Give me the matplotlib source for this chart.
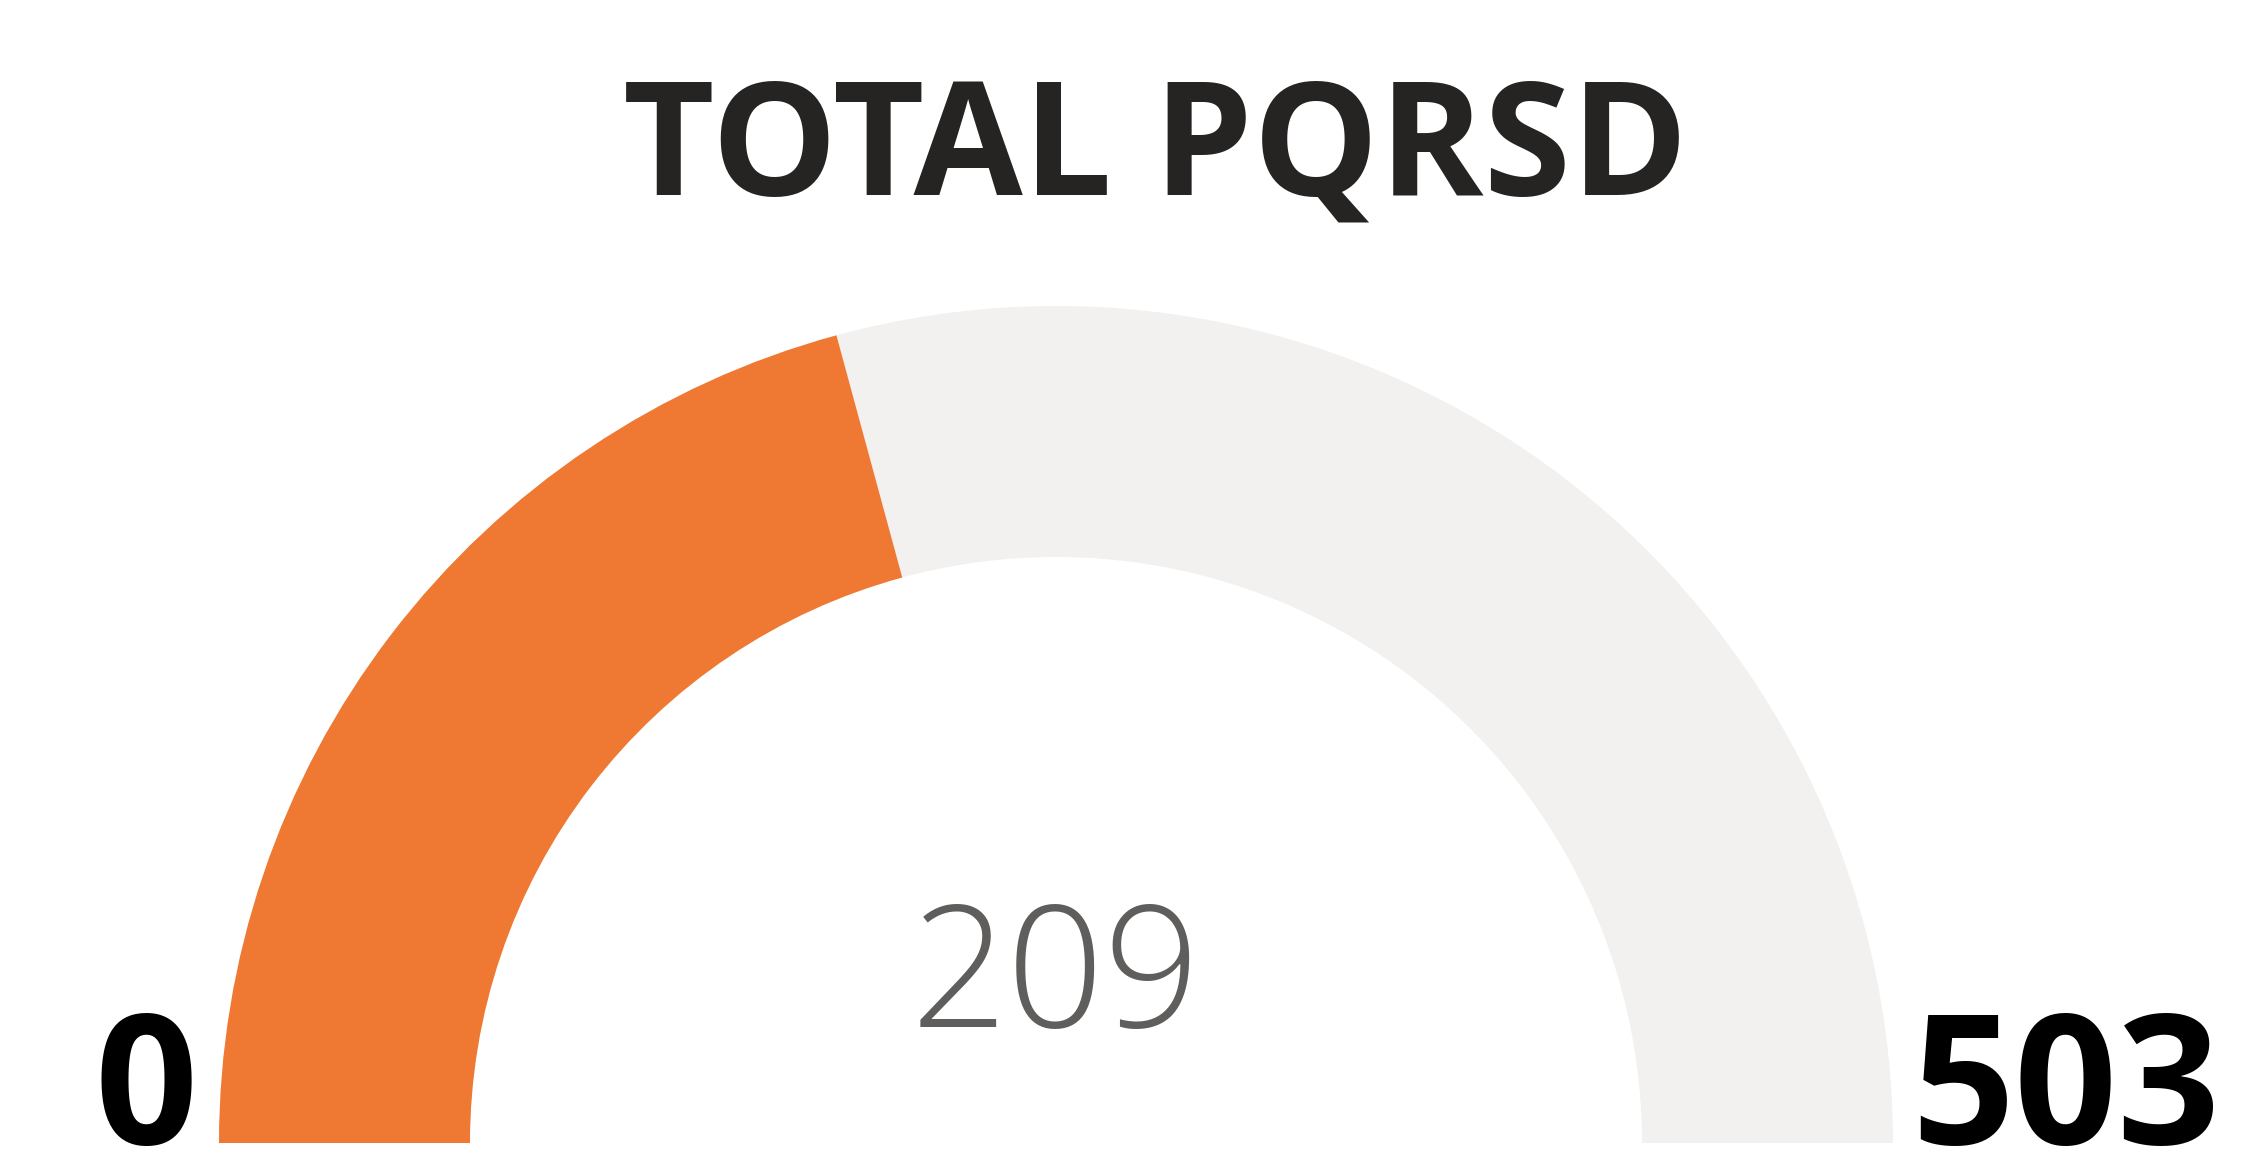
import matplotlib
matplotlib.use("Agg")
import matplotlib.pyplot as plt
from matplotlib.patches import Wedge

# data gauge
title = "TOTAL PQRSD"
min_val = 0
max_val = 503
value = 209

W, H = 2245, 1156
fig = plt.figure(figsize=(W / 100, H / 100), dpi=100)
ax = fig.add_axes([0, 0, 1, 1])
ax.set_xlim(0, W)
ax.set_ylim(0, H)
ax.axis("off")

# pusat dan jari-jari busur (piksel)
cx, cy = 1056, 13
r_out, r_in = 837, 586

frac = (value - min_val) / (max_val - min_val)
ang = 180 - frac * 180

ax.add_patch(Wedge((cx, cy), r_out, 0, ang, width=r_out - r_in,
                   facecolor="#F2F1EF", edgecolor="none"))
ax.add_patch(Wedge((cx, cy), r_out, ang, 180, width=r_out - r_in,
                   facecolor="#EF7833", edgecolor="none"))

fam = ["Open Sans", "DejaVu Sans"]
ax.text(1156, 961, title, ha="center", va="baseline", fontsize=114,
        fontweight="bold", family=fam, color="#252423")

ax.text(146, 12, str(min_val), ha="center", va="baseline", fontsize=130,
        fontweight="bold", family=fam, color="black")
ax.text(2066, 12, str(max_val), ha="center", va="baseline", fontsize=130,
        fontweight="bold", family=fam, color="black")

ax.text(cx, 129, str(value), ha="center", va="baseline", fontsize=122,
        fontweight="light", family=fam, color="#605E5C")

fig.savefig("out.png", dpi=100, facecolor="white")
